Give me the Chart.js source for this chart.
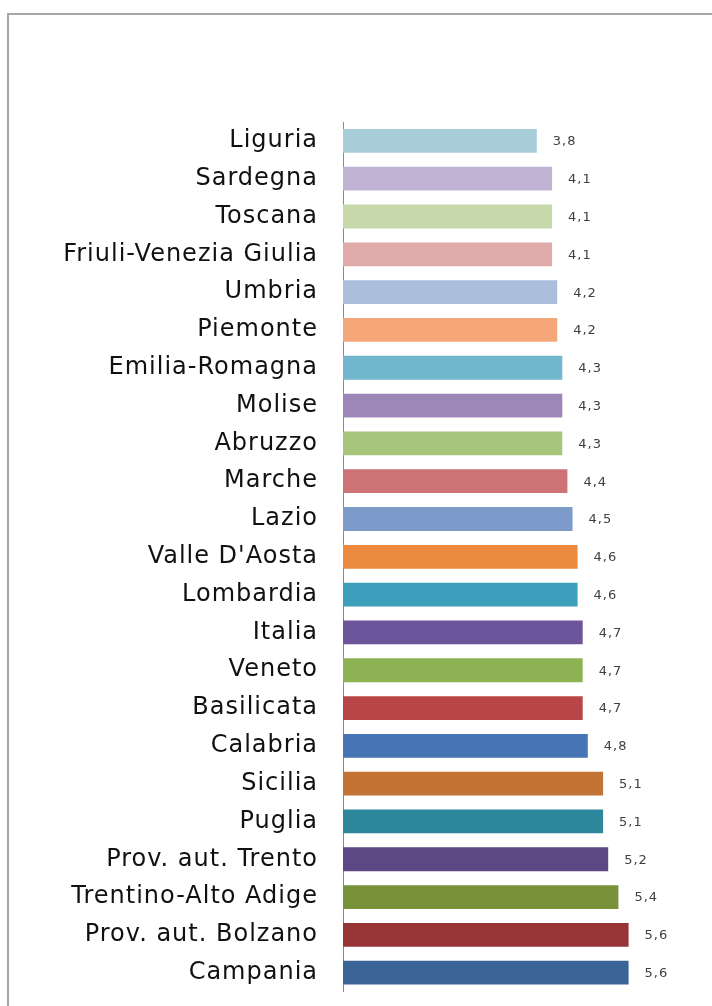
<!DOCTYPE html>
<html>
<head>
<meta charset="utf-8">
<script src="https://cdn.jsdelivr.net/npm/chart.js@4"></script>
<style>
    html, body { margin: 0; padding: 0; background: #fff; }
    body { width: 712px; height: 1006px; position: relative; overflow: hidden; }
    #frame {
        position: absolute; left: 7px; top: 13px; width: 720px; height: 1010px;
        border: 2px solid #a6a6a6; box-sizing: border-box;
    }
    #wrap { position: absolute; left: 0; top: 0; width: 712px; height: 1031px; }
</style>
</head>
<body>
<div id="frame"></div>
<div id="wrap"><canvas id="regioniChart" width="712" height="1031"></canvas></div>
<script>
// Regioni (dall'alto verso il basso) e valori
const regioni = [
    'Liguria', 'Sardegna', 'Toscana', 'Friuli-Venezia Giulia', 'Umbria', 'Piemonte',
    'Emilia-Romagna', 'Molise', 'Abruzzo', 'Marche', 'Lazio', "Valle D'Aosta",
    'Lombardia', 'Italia', 'Veneto', 'Basilicata', 'Calabria', 'Sicilia', 'Puglia',
    'Prov. aut. Trento', 'Trentino-Alto Adige', 'Prov. aut. Bolzano', 'Campania'
];
const valori = [
    3.8, 4.1, 4.1, 4.1, 4.2, 4.2,
    4.3, 4.3, 4.3, 4.4, 4.5, 4.6,
    4.6, 4.7, 4.7, 4.7, 4.8, 5.1, 5.1,
    5.2, 5.4, 5.6, 5.6
];
const colori = [
    '#a9ccd9', '#c0b2d2', '#c7d9ab', '#e0a9aa', '#abbedb', '#f6a779',
    '#71b6cc', '#9c87b8', '#a8c67b', '#cc7475', '#7c9bcb', '#ec8b3f',
    '#3d9fbb', '#6d559b', '#8db254', '#b84646', '#4674b4', '#c37333', '#2d879c',
    '#5d4784', '#779239', '#963436', '#3b6497'
];

const ctx = document.getElementById('regioniChart').getContext('2d');

// Spaziatura lettere per avvicinare il font largo dell'originale
const spacing = {
    id: 'spacing',
    beforeDraw(chart) { chart.ctx.letterSpacing = '1px'; }
};

// Etichette dei valori a destra delle barre (virgola decimale)
const valueLabels = {
    id: 'valueLabels',
    afterDatasetsDraw(chart) {
        const c = chart.ctx;
        const meta = chart.getDatasetMeta(0);
        c.save();
        c.letterSpacing = '1px';
        c.font = '13px "DejaVu Sans"';
        c.fillStyle = '#404040';
        c.textAlign = 'left';
        c.textBaseline = 'middle';
        meta.data.forEach((bar, i) => {
            c.fillText(valori[i].toFixed(1).replace('.', ','), bar.x + 16, bar.y + 1);
        });
        c.restore();
    }
};

new Chart(ctx, {
    type: 'bar',
    data: {
        labels: regioni,
        datasets: [{
            data: valori,
            backgroundColor: colori,
            borderWidth: 0,
            barPercentage: 0.63,
            categoryPercentage: 1
        }]
    },
    options: {
        indexAxis: 'y',
        responsive: false,
        animation: false,
        layout: { padding: { top: 122, bottom: 12, right: 12, left: 0 } },
        plugins: { legend: { display: false }, tooltip: { enabled: false } },
        scales: {
            x: { display: false, min: 0, max: 7 },
            y: {
                afterFit: (scale) => { scale.width = 343; },
                grid: { display: false, drawTicks: false },
                border: { display: true, color: '#8a8a8a', width: 1 },
                ticks: {
                    padding: 25,
                    color: '#111',
                    font: { family: 'DejaVu Sans', size: 24 }
                }
            }
        }
    },
    plugins: [spacing, valueLabels]
});
</script>
</body>
</html>
